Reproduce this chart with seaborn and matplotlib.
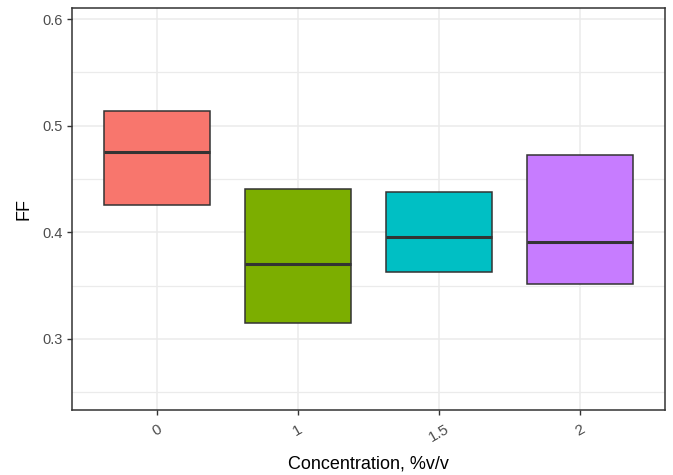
import numpy as np
import pandas as pd
import matplotlib
matplotlib.use("Agg")
import matplotlib.pyplot as plt
from matplotlib.ticker import MultipleLocator
import seaborn as sns

# Concentration groups and their box summaries (lower hinge, median, upper hinge)
concentrations = ["0", "1", "1.5", "2"]
ff_lower = [0.426, 0.315, 0.363, 0.351]
ff_median = [0.475, 0.370, 0.396, 0.391]
ff_upper = [0.514, 0.441, 0.438, 0.472]
group_colors = ["#F8766D", "#7CAE00", "#00BFC4", "#C77CFF"]

# Observations per group: extremes coincide with the hinges, so no whiskers show
rows = []
for c, lo, md, hi in zip(concentrations, ff_lower, ff_median, ff_upper):
    for v in (lo, lo, md, hi, hi):
        rows.append({"Concentration": c, "FF": v})
df = pd.DataFrame(rows)

sns.set_theme(style="white")
plt.rcParams["font.family"] = ["Liberation Sans", "DejaVu Sans"]

fig = plt.figure(figsize=(6.73, 4.75), dpi=100)
ax = fig.add_axes([0.107, 0.137, 0.881, 0.846])

edge = "#333333"
sns.boxplot(
    data=df, x="Concentration", y="FF", hue="Concentration",
    order=concentrations, hue_order=concentrations,
    palette=group_colors, saturation=1, width=0.75, whis=0, legend=False,
    linecolor=edge, linewidth=1.1, showcaps=False, showfliers=False,
    medianprops={"color": edge, "linewidth": 2.2},
    ax=ax, zorder=3,
)

ax.set_xlim(-0.6, 3.6)
ax.set_ylim(0.2333, 0.6103)
ax.yaxis.set_minor_locator(MultipleLocator(0.05))
ax.set_yticks([0.3, 0.4, 0.5, 0.6])
ax.set_yticklabels(["0.3", "0.4", "0.5", "0.6"])

ax.grid(True, which="major", color="#EBEBEB", linewidth=1.1, zorder=0)
ax.grid(True, which="minor", axis="y", color="#EBEBEB", linewidth=0.9, zorder=0)
ax.set_axisbelow(True)

for s in ax.spines.values():
    s.set_visible(True)
    s.set_color(edge)
    s.set_linewidth(1.1)

ax.tick_params(axis="both", which="major", direction="out", length=3.5, width=1.0,
               color=edge, labelcolor="#4D4D4D", labelsize=10.5, pad=3,
               bottom=True, left=True)
ax.tick_params(axis="x", which="major", pad=5, labelsize=11)
ax.tick_params(axis="y", which="minor", length=0, left=False)
for lab in ax.get_xticklabels():
    lab.set_rotation(30)
    lab.set_ha("center")

ax.set_xlabel("Concentration, %v/v", fontsize=13, color="black", labelpad=8)
ax.set_ylabel("FF", fontsize=13, color="black", labelpad=7)

fig.savefig("out.png", dpi=100)
